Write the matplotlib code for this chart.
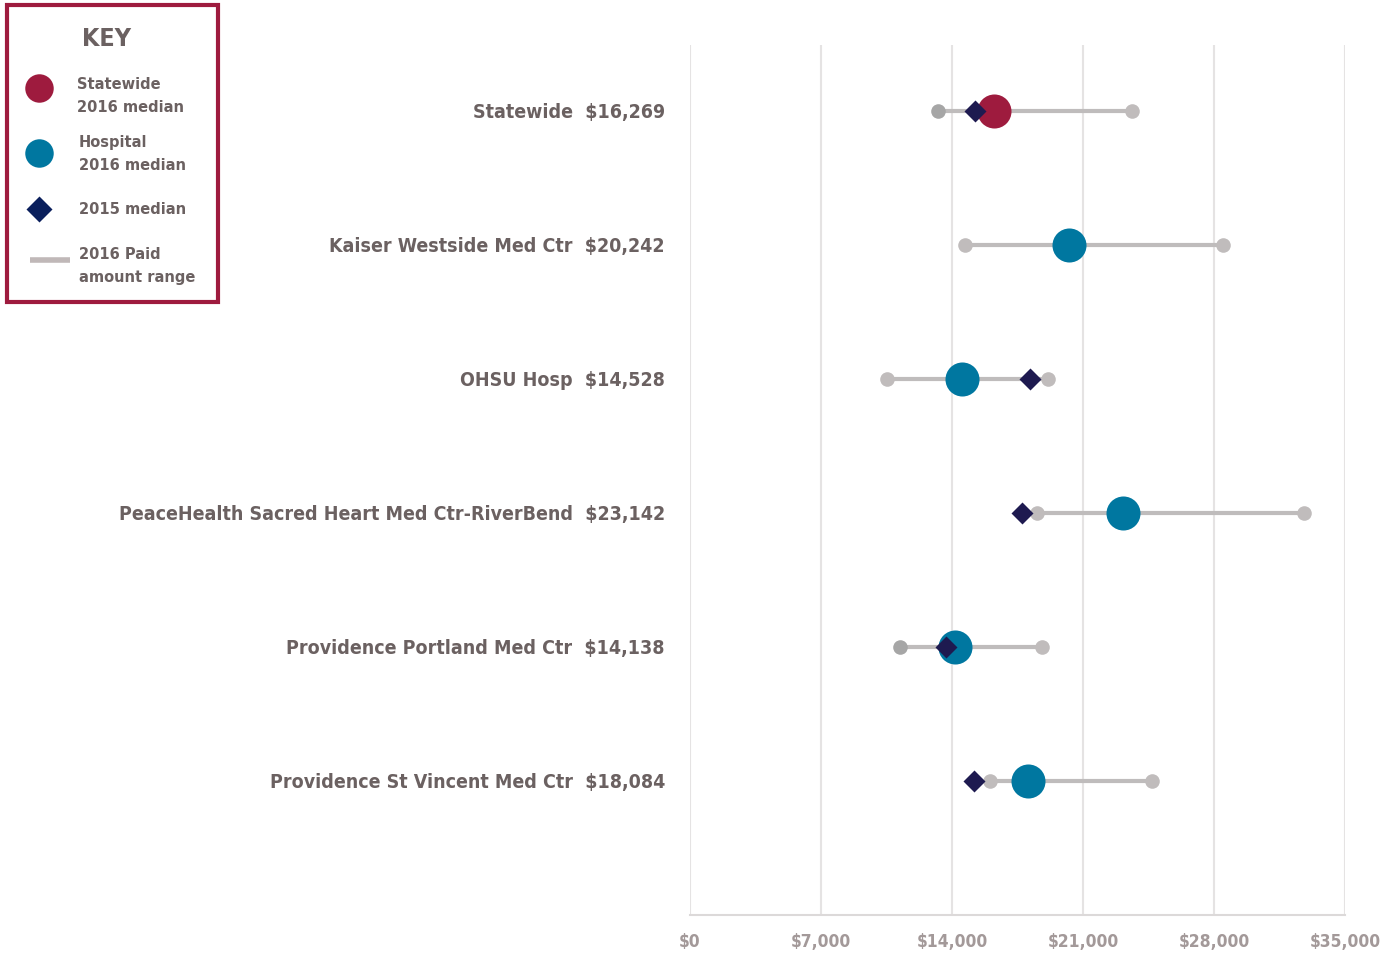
import matplotlib
matplotlib.use("Agg")
import matplotlib.pyplot as plt
import numpy as np
from matplotlib.patches import Rectangle
from matplotlib.ticker import FuncFormatter

plt.rcParams['font.family'] = ['DejaVu Sans']
plt.rcParams['font.stretch'] = 'condensed'
plt.rcParams['font.weight'] = 'bold'

names = ["Statewide", "Kaiser Westside Med Ctr", "OHSU Hosp",
         "PeaceHealth Sacred Heart Med Ctr-RiverBend",
         "Providence Portland Med Ctr", "Providence St Vincent Med Ctr"]
median_2016 = [16269, 20242, 14528, 23142, 14138, 18084]
median_2015 = [15230, np.nan, 18150, 17740, 13670, 15160]
range_min = [13260, 14680, 10530, 18540, 11210, 16020]
range_max = [23600, 28460, 19150, 32820, 18830, 24700]
ticks = [0, 7000, 14000, 21000, 28000, 35000]

TXT = '#6b6161'
TICK = '#a39999'
RED = '#9e1b3e'
TEAL = '#0077a0'
NAVY = '#1e1a50'
LINE = '#bfbcbc'
DOT = '#c0bcbc'
DOT_DARK = '#a6a6a6'

W, H = 1395, 957
fig = plt.figure(figsize=(W/100, H/100), dpi=100)
ax = fig.add_axes([690/W, (H-915)/H, 655/W, 870/H])

y = np.arange(len(names))
for i in range(len(names)):
    ax.plot([range_min[i], range_max[i]], [y[i], y[i]], color=LINE, lw=3,
            solid_capstyle='butt', zorder=2)
    dc_min = DOT_DARK if i in (0, 4) else DOT
    ax.plot(range_min[i], y[i], 'o', ms=10.5, color=dc_min, mec='none', zorder=3)
    ax.plot(range_max[i], y[i], 'o', ms=10.5, color=DOT, mec='none', zorder=3)
    c = RED if i == 0 else TEAL
    ax.plot(median_2016[i], y[i], 'o', ms=24.5, color=c, mec='none', zorder=4)
    if not np.isnan(median_2015[i]):
        ax.plot(median_2015[i], y[i], 'D', ms=10.7, color=NAVY, mec='none', zorder=5)
    ax.text(-1336, y[i], f"{names[i]}  ${median_2016[i]:,}", ha='right',
            va='center_baseline', fontsize=14, color=TXT, transform=ax.transData)

ax.set_xlim(0, 35000)
ax.set_ylim(6.0, -0.49)
ax.set_xticks(ticks)
ax.xaxis.set_major_formatter(FuncFormatter(lambda v, p: f"${int(v):,}"))
ax.set_yticks([])
ax.grid(axis='x', color='#e5e3e3', lw=1.5)
ax.set_axisbelow(True)
for s in ['top', 'right', 'left']:
    ax.spines[s].set_visible(False)
ax.spines['bottom'].set_color('#dcd9d9')
ax.spines['bottom'].set_linewidth(1.5)
ax.tick_params(axis='x', length=0, pad=13, labelsize=12.5, labelcolor=TICK)

# Legend panel in pixel coordinates
lg = fig.add_axes([0, 0, 1, 1], zorder=10)
lg.set_xlim(0, W)
lg.set_ylim(H, 0)
lg.axis('off')
lg.patch.set_alpha(0)
lg.add_patch(Rectangle((7, 5), 211, 297, fill=False, ec=RED, lw=3))
lg.text(106, 39, "KEY", ha='center', va='center', fontsize=18, color=TXT)
lg.plot(39, 88, 'o', ms=20.5, color=RED, mec='none')
lg.text(77, 96, "Statewide\n2016 median", ha='left', va='center', fontsize=11.7,
        color=TXT, linespacing=1.65)
lg.plot(39, 153, 'o', ms=20.5, color=TEAL, mec='none')
lg.text(79, 154, "Hospital\n2016 median", ha='left', va='center', fontsize=11.7,
        color=TXT, linespacing=1.65)
lg.plot(39, 209, 'D', ms=13.5, color='#0a1f5c', mec='none')
lg.text(79, 209, "2015 median", ha='left', va='center', fontsize=11.7, color=TXT)
lg.plot([30, 70], [260, 260], color='#c0b8b8', lw=4, solid_capstyle='butt')
lg.text(79, 266, "2016 Paid\namount range", ha='left', va='center', fontsize=11.7,
        color=TXT, linespacing=1.65)

fig.savefig("out.png", dpi=100)
